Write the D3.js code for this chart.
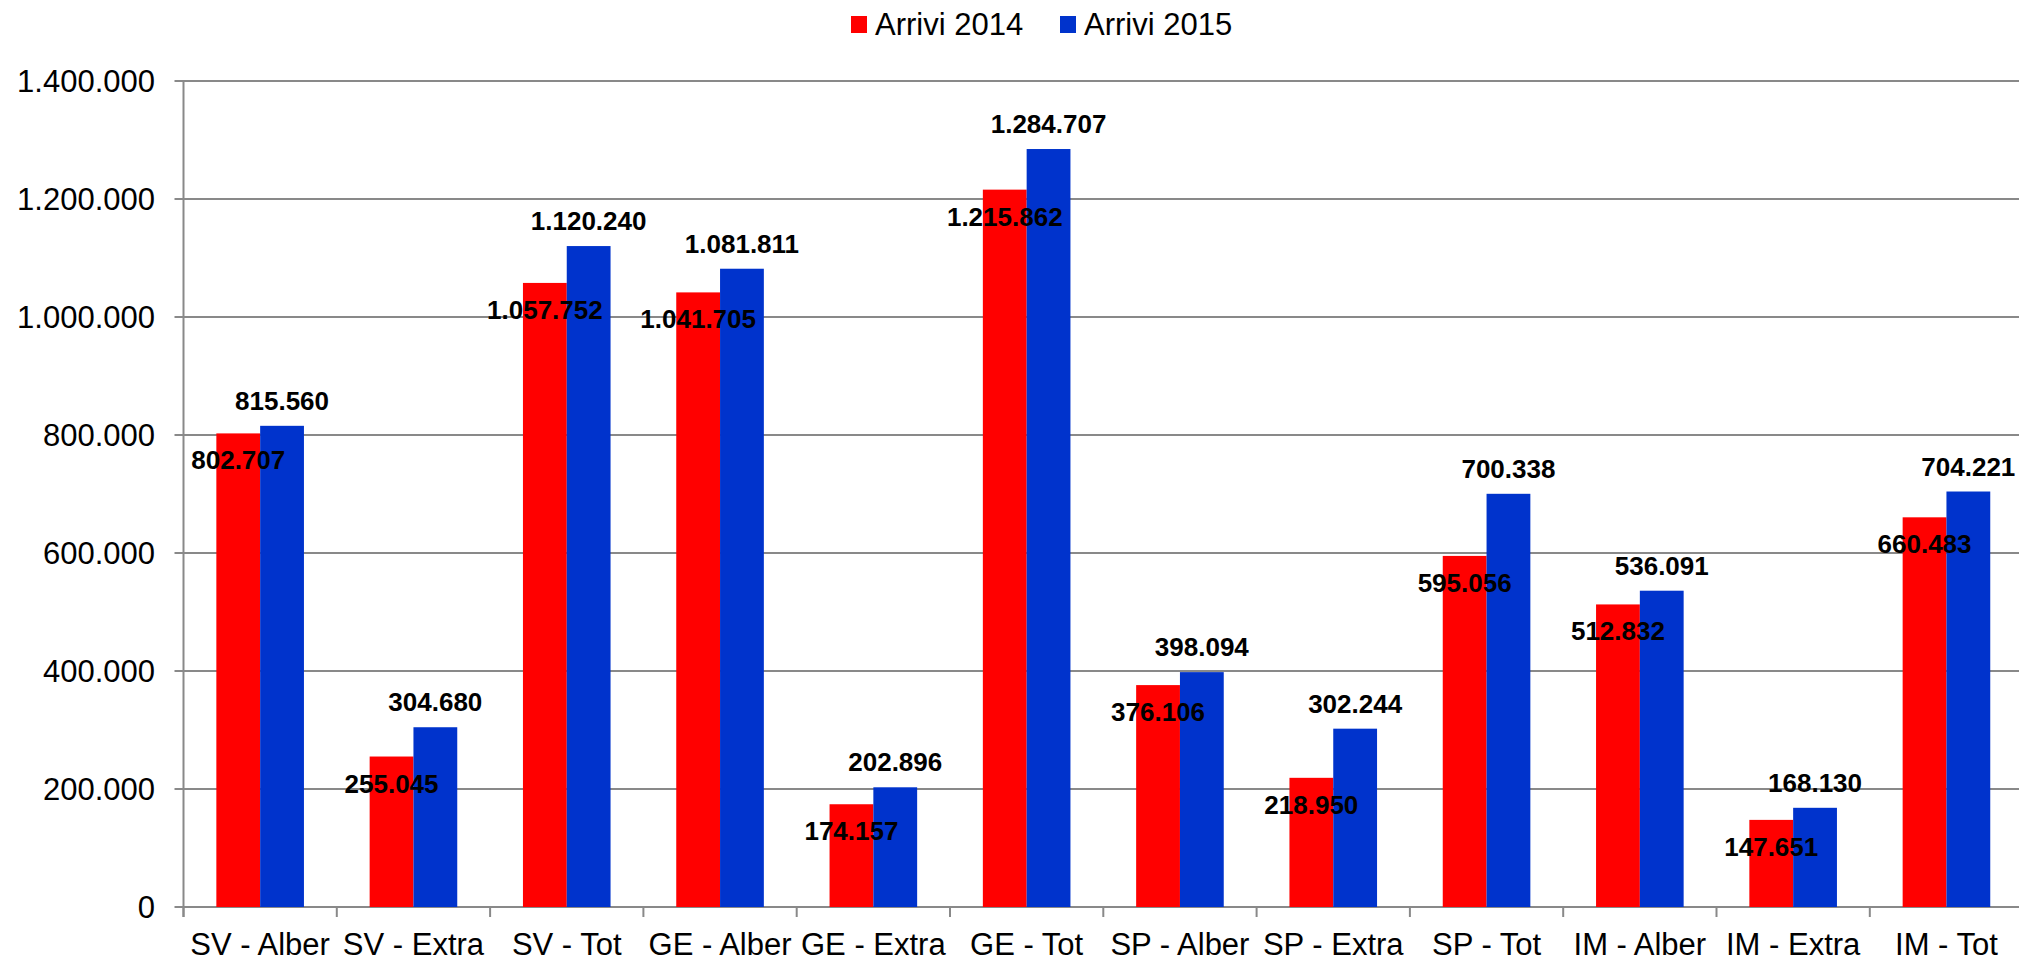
<!DOCTYPE html>
<html>
<head>
<meta charset="utf-8">
<script src="https://cdn.jsdelivr.net/npm/d3@7"></script>
<style>
html,body{margin:0;padding:0;background:#fff;}
svg{display:block;font-family:"Liberation Sans",Arial,sans-serif;}
</style>
</head>
<body>
<svg id="chart" width="2019" height="963"></svg>
<script>
const categories = ["SV - Alber","SV - Extra","SV - Tot","GE - Alber","GE - Extra","GE - Tot","SP - Alber","SP - Extra","SP - Tot","IM - Alber","IM - Extra","IM - Tot"];
const seriesNames = ["Arrivi 2014","Arrivi 2015"];
const arrivi2014 = [802707,255045,1057752,1041705,174157,1215862,376106,218950,595056,512832,147651,660483];
const arrivi2015 = [815560,304680,1120240,1081811,202896,1284707,398094,302244,700338,536091,168130,704221];
const yTicks = [0,200000,400000,600000,800000,1000000,1200000,1400000];
const colors = ["#ff0000","#0033cc"];

const it = d3.formatLocale({decimal:",",thousands:".",grouping:[3],currency:["€",""]});
const fmt = it.format(",d");

const svg = d3.select("#chart");
const plotLeft = 183.5, plotRight = 2019, plotTop = 81, plotBottom = 907;

const x0 = d3.scaleBand().domain(categories).range([plotLeft, plotLeft + 153.3*12]).padding(0);
const x1 = d3.scaleBand().domain(seriesNames).range([0, x0.bandwidth()]).paddingInner(0).paddingOuter(0.75);
const y = d3.scaleLinear().domain([0,1400000]).range([plotBottom, plotTop]);

// gridlines
svg.append("g").selectAll("line").data(yTicks).join("line")
  .attr("x1", plotLeft-9).attr("x2", plotRight)
  .attr("y1", d=>y(d)).attr("y2", d=>y(d))
  .attr("stroke","#898989").attr("stroke-width",2);

// y axis line
svg.append("line").attr("x1",plotLeft).attr("x2",plotLeft).attr("y1",plotTop).attr("y2",plotBottom+10)
  .attr("stroke","#898989").attr("stroke-width",2);

// x ticks
const bounds = d3.range(categories.length+1).map(i=>plotLeft + i*x0.step());
svg.append("g").selectAll("line").data(bounds).join("line")
  .attr("x1",d=>d).attr("x2",d=>d).attr("y1",plotBottom).attr("y2",plotBottom+10)
  .attr("stroke","#898989").attr("stroke-width",2);

// y tick labels
svg.append("g").selectAll("text").data(yTicks).join("text")
  .attr("x",155).attr("y",d=>y(d)).attr("dy","0.36em")
  .attr("text-anchor","end").attr("font-size",31).attr("fill","#000")
  .text(d=>fmt(d));

// x labels
svg.append("g").selectAll("text").data(categories).join("text")
  .attr("x",d=>x0(d)+x0.bandwidth()/2).attr("y",955)
  .attr("text-anchor","middle").attr("font-size",31).attr("fill","#000")
  .text(d=>d);

const rows = categories.map((c,i)=>({cat:c, vals:[arrivi2014[i], arrivi2015[i]]}));

// bars
const groups = svg.append("g").selectAll("g").data(rows).join("g")
  .attr("transform",d=>`translate(${x0(d.cat)},0)`);
groups.selectAll("rect").data(d=>d.vals.map((v,j)=>({s:seriesNames[j],v,j}))).join("rect")
  .attr("x",d=>x1(d.s)).attr("width",x1.bandwidth())
  .attr("y",d=>y(d.v)).attr("height",d=>y(0)-y(d.v))
  .attr("fill",d=>colors[d.j]);

// labels
const lg = svg.append("g").selectAll("g").data(rows).join("g")
  .attr("transform",d=>`translate(${x0(d.cat)},0)`);
lg.selectAll("text").data(d=>d.vals.map((v,j)=>({s:seriesNames[j],v,j}))).join("text")
  .attr("x",d=>x1(d.s)+x1.bandwidth()/2)
  .attr("y",d=>d.j===0 ? y(d.v)+36 : y(d.v)-16)
  .attr("text-anchor","middle").attr("font-size",26).attr("font-weight","bold").attr("fill","#000")
  .text(d=>fmt(d.v));

// legend
const legX = [851, 1060];
const leg = svg.append("g").selectAll("g").data(seriesNames).join("g")
  .attr("transform",(d,i)=>`translate(${legX[i]},0)`);
leg.append("rect").attr("x",0).attr("y",16).attr("width",16).attr("height",17).attr("fill",(d,i)=>colors[i]);
leg.append("text").attr("x",24).attr("y",35).attr("font-size",31).attr("fill","#000").text(d=>d);
</script>
</body>
</html>
